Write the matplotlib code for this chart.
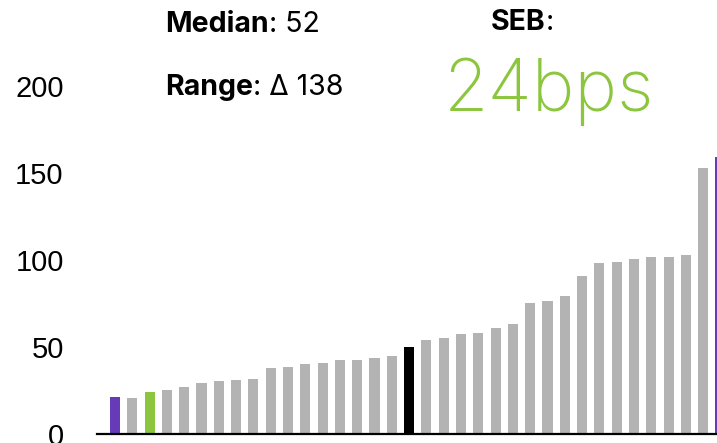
import matplotlib
matplotlib.use("Agg")
import matplotlib.pyplot as plt
import numpy as np

# sorted values, one bar per entry
values = [21.1, 20.7, 24.0, 25.3, 26.8, 29.5, 30.5, 31.0, 31.4, 37.8, 38.7, 40.2,
          40.8, 42.5, 42.7, 43.7, 44.8, 50.0, 54.2, 55.0, 57.5, 58.0, 61.1, 63.0,
          75.1, 76.4, 79.5, 91.0, 98.4, 98.9, 100.4, 101.5, 101.5, 102.9, 152.7, 159.4]
highlight = {0: "#673ab7", 2: "#8cc63f", 17: "#000000", 35: "#673ab7"}
y_ticks = [0, 50, 100, 150, 200]
median_txt = "52"
range_txt = "\u0394 138"
seb_txt = "24bps"

W, H = 717, 443
fig = plt.figure(figsize=(W / 100, H / 100), dpi=100)

step = 17.3
left_px, zero_px, top_px = 97, 434, 86
n_left = (115 - left_px) / step
x_right = 36.2
ax_w_px = (n_left + x_right) * step
ax = fig.add_axes([left_px / W, (H - zero_px) / H, ax_w_px / W, (zero_px - top_px) / H])

x = np.arange(len(values))
colors = [highlight.get(i, "#b3b3b3") for i in x]
ax.bar(x, values, width=0.58, color=colors)
ax.set_xlim(-n_left, x_right)
ax.set_ylim(0, 200)

for s in ["top", "right", "left"]:
    ax.spines[s].set_visible(False)
ax.spines["bottom"].set_linewidth(1.6)
ax.set_xticks([])
ax.set_yticks(y_ticks)
ax.tick_params(axis="y", length=0, pad=24)
for lab in ax.get_yticklabels():
    lab.set_fontfamily("Liberation Sans")
    lab.set_fontsize(21)

# header text
fam = ["Inter", "DejaVu Sans"]
renderer = fig.canvas.get_renderer()

def label_pair(xp, yp, bold, normal):
    t = fig.text(xp / W, 1 - yp / H, bold, fontsize=20.5, fontweight="bold",
                 family=fam, va="center", ha="left")
    bb = t.get_window_extent(renderer)
    fig.text(bb.x1 / W, 1 - yp / H, normal, fontsize=20.5, family=fam,
             va="center", ha="left")

label_pair(165, 25, "Median", ": " + median_txt)
label_pair(165, 88, "Range", ": " + range_txt)

fig.text(546 / W, 1 - 22 / H, "SEB", fontsize=20.5, fontweight="bold",
         family=fam, va="center", ha="right")
fig.text(546 / W, 1 - 22 / H, ":", fontsize=20.5, family=fam, va="center", ha="left")
fig.text(549 / W, 1 - 92 / H, seb_txt, fontsize=52, fontweight="light",
         family=fam, color="#8cc63f", va="center", ha="center")

fig.savefig("out.png", dpi=100)
